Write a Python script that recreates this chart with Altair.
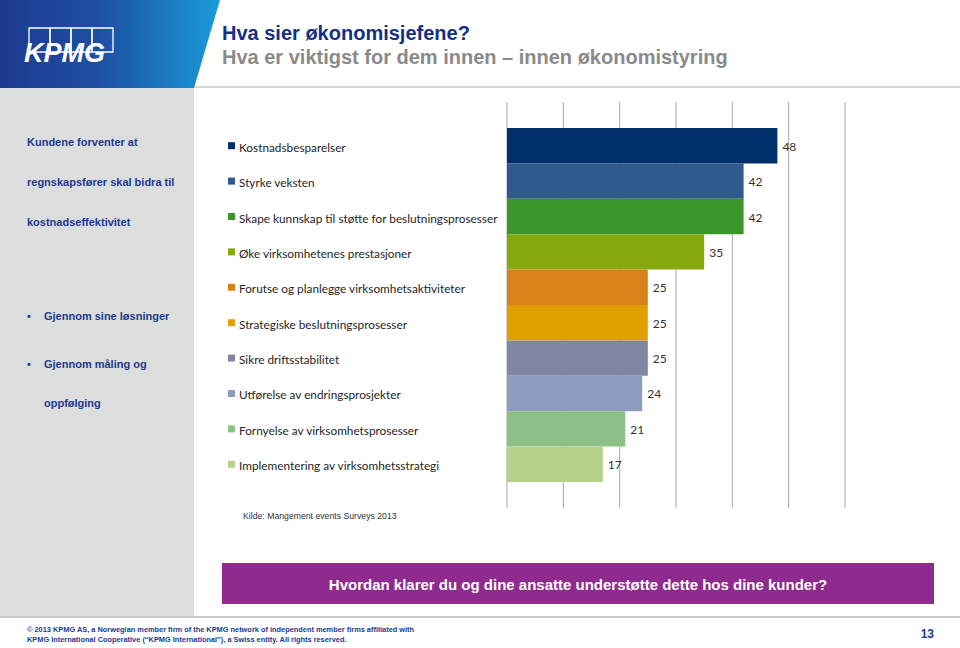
import altair as alt
import pandas as pd

categories = [
    "Kostnadsbesparelser",
    "Styrke veksten",
    "Skape kunnskap til støtte for beslutningsprosesser",
    "Øke virksomhetenes prestasjoner",
    "Forutse og planlegge virksomhetsaktiviteter",
    "Strategiske beslutningsprosesser",
    "Sikre driftsstabilitet",
    "Utførelse av endringsprosjekter",
    "Fornyelse av virksomhetsprosesser",
    "Implementering av virksomhetsstrategi",
]
values = [48, 42, 42, 35, 25, 25, 25, 24, 21, 17]
colors = ["#00306a", "#2f5a8e", "#3a952b", "#86a90e", "#d9821a",
          "#e0a100", "#8087a3", "#8c9dbd", "#8dc086", "#b5d28b"]
grid_ticks = [0, 10, 20, 30, 40, 50, 60]

title_1 = "Hva sier økonomisjefene?"
title_2 = "Hva er viktigst for dem innen – innen økonomistyring"
left_intro = ["Kundene forventer at", "regnskapsfører skal bidra til", "kostnadseffektivitet"]
bullet_1 = "Gjennom sine løsninger"
bullet_2 = ["Gjennom måling og", "oppfølging"]
source = "Kilde: Mangement events  Surveys 2013"
question = "Hvordan klarer du og dine ansatte understøtte dette hos dine kunder?"
footer = ["© 2013 KPMG AS, a Norwegian member firm of the KPMG network of independent member firms affiliated with",
          "KPMG International Cooperative (“KPMG International”), a Swiss entity. All rights reserved."]
page_no = "13"

df = pd.DataFrame({"category": categories, "value": values})
ticks_df = pd.DataFrame({"tick": grid_ticks})
one = pd.DataFrame({"a": [0]})

xs = alt.Scale(domain=[0, 60], range=[507, 845])
ys = alt.Scale(domain=categories, range=[102, 508], paddingInner=0, paddingOuter=0.735)
cs = alt.Scale(domain=categories, range=colors)

Y = alt.Y("category:N", scale=ys, axis=None)
C = alt.Color("category:N", scale=cs, legend=None)

DARKBLUE = "#1c3a8f"
SANS = "Liberation Sans"


def deco():
    return alt.Chart(one)


def rect(x, x2, y, y2, color):
    return deco().mark_rect(color=color).encode(
        x=alt.value(x), x2=alt.value(x2), y=alt.value(y), y2=alt.value(y2))


def text(x, y, t, **kw):
    return deco().mark_text(text=t, **kw).encode(x=alt.value(x), y=alt.value(y))


layers = []

# left gray panel
layers.append(rect(0, 194, 88, 616, "#dcdddd"))
# header separator and footer line
layers.append(deco().mark_rule(color="#c9c9c9", strokeWidth=1.5).encode(
    x=alt.value(194), x2=alt.value(960), y=alt.value(87)))
layers.append(deco().mark_rule(color="#c9c9c9", strokeWidth=2).encode(
    x=alt.value(0), x2=alt.value(960), y=alt.value(617)))

# header gradient block with slanted edge
grad = alt.LinearGradient(
    gradient="linear",
    stops=[alt.GradientStop(color="#1c3a90", offset=0),
           alt.GradientStop(color="#1d4fa3", offset=0.45),
           alt.GradientStop(color="#1a9bd8", offset=1)],
    x1=0, x2=1, y1=0, y2=0)
layers.append(deco().mark_point(
    shape="M -1 -0.4 L 1 -0.4 L 0.7636 0.4 L -1 0.4 Z",
    size=48400, filled=True, opacity=1, strokeWidth=0, color=grad
).encode(x=alt.value(110), y=alt.value(44)))

# KPMG logo boxes
for bx in [29, 50, 71, 92]:
    layers.append(deco().mark_rect(fill="transparent", stroke="white", strokeWidth=1.3).encode(
        x=alt.value(bx), x2=alt.value(bx + 21), y=alt.value(28), y2=alt.value(52)))
layers.append(text(24, 62, "KPMG", font=SANS, fontSize=27, fontWeight="bold",
                   fontStyle="italic", color="white", align="left", baseline="alphabetic"))

# titles
layers.append(text(222, 40, title_1, font=SANS, fontSize=20, fontWeight="bold",
                   color="#132f86", align="left", baseline="alphabetic"))
layers.append(text(222, 64, title_2, font=SANS, fontSize=20, fontWeight="bold",
                   color="#8a8a8a", align="left", baseline="alphabetic"))

# left panel text
layers.append(text(27, 146, left_intro, font=SANS, fontSize=11, fontWeight="bold",
                   color=DARKBLUE, align="left", baseline="alphabetic", lineHeight=40))
layers.append(text(27, 320, "•", font=SANS, fontSize=11, fontWeight="bold",
                   color=DARKBLUE, align="left", baseline="alphabetic"))
layers.append(text(44, 320, bullet_1, font=SANS, fontSize=11, fontWeight="bold",
                   color=DARKBLUE, align="left", baseline="alphabetic"))
layers.append(text(27, 368, "•", font=SANS, fontSize=11, fontWeight="bold",
                   color=DARKBLUE, align="left", baseline="alphabetic"))
layers.append(text(44, 368, bullet_2, font=SANS, fontSize=11, fontWeight="bold",
                   color=DARKBLUE, align="left", baseline="alphabetic", lineHeight=39))

# gridlines
layers.append(alt.Chart(ticks_df).mark_rule(color="#a9a9a9", strokeWidth=1).encode(
    x=alt.X("tick:Q", scale=xs, axis=None), y=alt.value(102), y2=alt.value(508)))

# bars
layers.append(alt.Chart(df).mark_bar().encode(
    x=alt.X("value:Q", scale=xs, axis=None), y=Y, color=C))
# value labels
layers.append(alt.Chart(df).mark_text(align="left", baseline="middle", dx=5, dy=1,
                                      font="Lato", fontSize=12, color="#333333").encode(
    x=alt.X("value:Q", scale=xs, axis=None), y=Y, text="value:Q"))
# category legend-like labels
layers.append(alt.Chart(df).mark_square(size=49, opacity=1).encode(
    x=alt.value(231.5), y=Y, color=C))
layers.append(alt.Chart(df).mark_text(align="left", baseline="middle", dy=2,
                                      font="Lato", fontSize=11.8, color="#262626").encode(
    x=alt.value(239), y=Y, text="category:N"))

# source
layers.append(text(243, 519, source, font=SANS, fontSize=8.7, color="#333333",
                   align="left", baseline="alphabetic"))

# purple question box
layers.append(rect(222, 934, 563, 604, "#8f2a8e"))
layers.append(text(578, 590, question, font=SANS, fontSize=15, fontWeight="bold",
                   color="white", align="center", baseline="alphabetic"))

# footer
layers.append(text(27, 632, footer, font=SANS, fontSize=7.4, fontWeight="bold",
                   color=DARKBLUE, align="left", baseline="alphabetic", lineHeight=10))
layers.append(text(934, 638, page_no, font=SANS, fontSize=12, fontWeight="bold",
                   color=DARKBLUE, align="right", baseline="alphabetic"))

chart = alt.layer(*layers).properties(
    width=960, height=648,
    autosize=alt.AutoSizeParams(type="none"),
    padding=0,
    background="white",
).configure_view(strokeWidth=0)

chart.save("out.html", embed_options={"renderer": "svg", "actions": False})
